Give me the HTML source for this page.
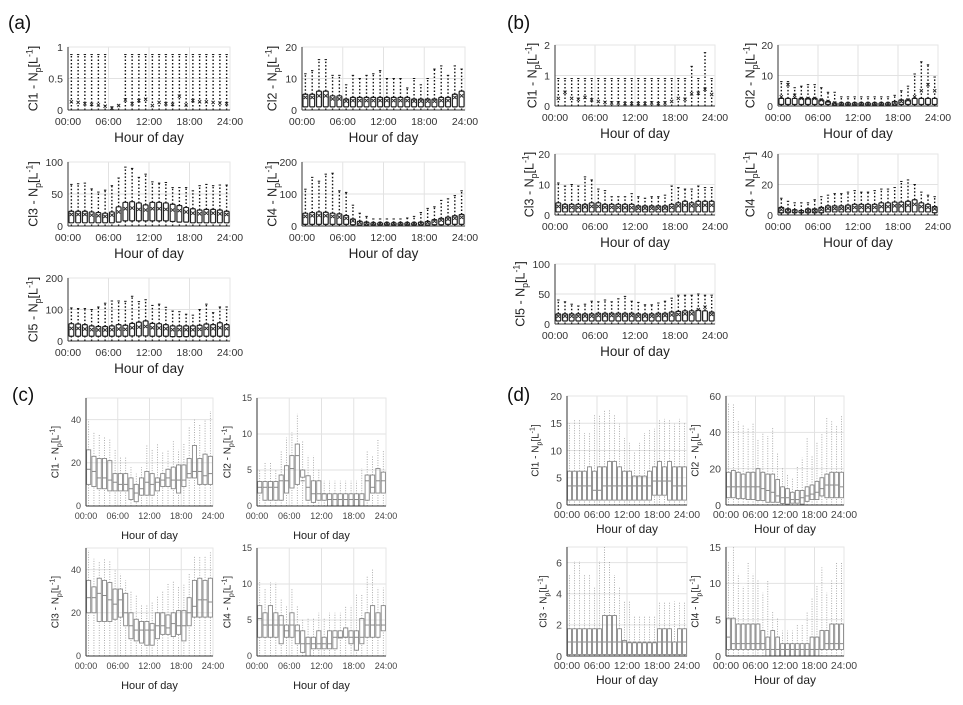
<!DOCTYPE html>
<html><head><meta charset="utf-8"><style>
html,body{margin:0;padding:0;background:#fff}
svg{display:block;font-family:"Liberation Sans",sans-serif}
</style></head><body>
<svg id="fig" width="963" height="705" viewBox="0 0 963 705" xmlns="http://www.w3.org/2000/svg">
<text x="8" y="29" font-size="19" fill="#111">(a)</text>
<text x="507" y="29" font-size="19" fill="#111">(b)</text>
<text x="12" y="401" font-size="19" fill="#111">(c)</text>
<text x="507" y="401" font-size="19" fill="#111">(d)</text>
</svg>
<script>
const hours = ["00:00","06:00","12:00","18:00","24:00"];
// ---- panel a ----
const a1_hi=[.88,.88,.88,.88,.88,.88,.05,.08,.88,.88,.88,.88,.88,.88,.88,.88,.88,.88,.88,.88,.88,.88,.88,.88];
const a1_q1=[0,0,0,0,0,0,0,0,0,0,0,0,0,0,0,0,0,0,0,0,0,0,0,0];
const a1_q3=[0,0,0,0,0,0,0,0,0,0,0,0,0,0,0,0,0,0,0,0,0,0,0,0];
const a1_mean=[.13,.12,.1,.09,.08,.06,.03,.07,.16,.1,.15,.17,.07,.12,.1,.09,.22,.08,.15,.13,.13,.12,.11,.1];
const a2_hi=[11.5,12.5,16,16,11,11,8,11,10,11,11.5,12.5,10,10,10,7,10,8,10,13,14,11,14,13];
const a2_q1=[1,1,1,1,1,1,1,1,1,1,1,1,1,1,1,1,1,1,1,1,1,1,1,1];
const a2_q3=[5,5,6,6,4.5,4.5,3.5,4,4,4,4,4,4,4,4,4,3.5,3.5,3.5,3.5,4,4,5,6];
const a2_mean=[4,4,4.5,4.5,3.5,3.5,2.8,3,3,3,3,3,3,3,3,3,2.8,2.8,2.8,2.8,3,3,4,4.5];
const a3_hi=[65,66,67,58,53,56,63,75,92,90,76,81,69,67,68,60,60,60,55,63,65,63,64,64];
const a3_q1=[5,5,5,5,5,5,5,6,8,8,8,8,8,8,8,7,6,6,5,5,5,5,5,5];
const a3_q3=[23,23,23,22,21,20,22,30,37,38,36,33,37,37,36,34,32,29,27,25,26,26,25,23];
const a3_mean=[18,18,18,17,16,15,17,22,27,28,26,25,27,27,26,25,24,22,20,19,20,20,19,18];
const a4_hi=[115,152,140,162,165,110,105,65,40,30,22,22,22,22,22,25,30,42,55,60,80,85,95,110];
const a4_q1=[5,5,5,5,5,5,5,4,3,3,3,3,3,3,3,3,3,3,3,4,4,5,5,5];
const a4_q3=[40,42,44,43,40,38,33,22,15,12,10,10,10,10,10,10,10,12,14,20,24,28,32,36];
const a4_mean=[30,32,33,32,30,28,24,16,11,9,8,8,8,8,8,8,8,9,11,15,18,21,24,27];
const a5_hi=[105,103,103,100,108,120,127,127,126,142,125,131,113,117,107,95,93,85,82,100,117,90,108,108];
const a5_q1=[15,15,15,15,15,15,15,15,15,16,16,16,15,15,15,14,14,14,15,15,15,15,15,15];
const a5_q3=[55,54,52,48,46,46,48,52,50,56,60,64,56,55,52,48,48,48,48,50,54,52,58,52];
const a5_mean=[40,40,38,36,35,35,36,38,37,42,44,46,42,41,39,36,36,36,36,37,40,39,42,39];
// ---- panel b ----
const b1_hi=[.9,.9,.9,.9,.9,.9,.9,.9,.9,.9,.9,.9,.9,.9,.9,.9,.9,.9,.9,.9,1.3,.9,1.75,.9];
const b1_q1=[0,0,0,0,0,0,0,0,0,0,0,0,0,0,0,0,0,0,0,0,0,0,0,0];
const b1_q3=[0,0,0,0,0,0,0,0,0,0,0,0,0,0,0,0,0,0,0,0,0,0,0,0];
const b1_mean=[.25,.45,.25,.22,.28,.2,.15,.12,.1,.1,.08,.08,.08,.08,.1,.08,.1,.15,.25,.22,.4,.42,.55,.38];
const b2_hi=[8,8,6,6.5,7,7,6,4.5,4.5,3,3,3,3,3,3,3,3,3.5,5,6.5,10.5,14.5,13.5,9.5];
const b2_q1=[.5,.5,.5,.5,.5,.5,.5,.5,.3,.3,.3,.3,.3,.3,.3,.3,.3,.3,.5,.5,.5,.5,.5,.5];
const b2_q3=[2.5,2.5,2.5,2.5,2.5,2.5,2,1.5,1,1,1,1,1,1,1,1,1,1.5,2,2,2.5,2.5,2.5,2.5];
const b2_mean=[3,7,3.5,2.5,2.5,2.5,2,1.5,1,.8,.8,.8,.8,.8,.8,.8,.8,1,1.5,2,3,5,7,5];
const b3_hi=[10.5,9.5,10,9.5,12.5,11.5,8.5,8,6,6,6,7,6,5.5,6,6,6.5,9.5,9,8.5,8.5,9.5,9,9];
const b3_q1=[1,1,1,1,1,1,1,1,1,1,1,1,1,1,1,1,1,1,1,1,1,1,1,1];
const b3_q3=[4,3.5,3.5,3.5,3.5,4,4,3.5,3.5,3.5,3.5,3.5,3,3,3,3,3,3.5,4,4.5,4,4.5,4.5,4.5];
const b3_mean=[2.8,2.5,2.5,2.5,2.6,2.8,2.8,2.5,2.5,2.5,2.4,2.4,2.2,2.2,2.2,2.2,2.2,2.5,3,3.2,3,3.2,3.2,3.2];
const b4_hi=[11,9,8,8,8,10,12,13,14,14,15,16,15,15,16,17,17,18,22,23,20,15,13,12];
const b4_q1=[1.5,1.5,1.5,1.5,1.5,1.5,1.5,2,2,2,2,2,2,2,2,2,2,2,2,2,2,2,2,1.5];
const b4_q3=[5,4,3.5,3,4,4,5,6,6,6,6.5,7,7,7,7,8,8,8.5,8.5,9,10,8,7,5.5];
const b4_mean=[3.5,3,2.5,2.2,2.8,2.8,3.5,4.2,4.2,4.2,4.5,5,5,5,5,5.5,5.5,6,6,6.3,7,5.5,5,4];
const b5_hi=[40,37,33,30,33,38,37,40,37,42,46,38,36,32,32,35,38,43,48,48,48,50,48,48];
const b5_q1=[5,5,5,5,5,5,5,5,5,5,5,5,5,5,5,5,5,5,5,5,5,5,5,5];
const b5_q3=[17,17,17,17,17,17,18,18,18,18,18,18,17,17,17,18,18,20,21,22,22,23,22,20];
const b5_mean=[13,13,13,13,13,13,14,14,14,14,14,14,13,13,13,14,14,15,16,17,17,24,28,16];
// ---- panel c ----
const c1_hi=[40,34,33,32,31,26,23,23,18,15,18,28,26,29,25,26,30,26,29,37,40,38,40,44];
const c1_q1=[10,9,8,8,7,7,7,7,3,2,5,5,5,7,9,9,8,6,9,13,13,10,10,10];
const c1_q3=[26,23,22,22,21,15,15,15,13,10,13,16,15,13,15,17,18,19,19,22,28,22,24,23];
const c1_med=[17,16,13,13,12,11,10,10,8,6,8,11,10,11,12,13,12,12,12,15,16,16,14,15];
const c2_hi=[5,6,6,5,7.6,9.5,10.2,12.8,9,7,7,5.2,3.5,3.5,3.5,3.5,3.5,3.5,3.5,5.2,7.6,7,9.3,7.8];
const c2_q1=[1.8,.8,.8,.8,.8,1.8,2.5,3,4,.8,.5,.8,.8,0,0,0,0,0,0,0,.8,1.8,1.8,1.8];
const c2_q3=[3.4,3.4,3.4,3.4,4.3,5.6,7,8.6,5,4.2,3.5,3.5,1.7,1.7,1.7,1.7,1.7,1.7,1.7,1.7,4.3,4.3,5.2,4.7];
const c2_med=[2.6,2.6,2.6,2.6,3.5,3.5,5.2,7,3.5,2.6,1.7,1.7,1.7,.9,.9,.9,.9,.9,.9,.9,3.5,2.6,3.5,3.5];
const c3_hi=[49,45,44,45,44,40,38,35,30,28,24,24,25,28,30,34,35,32,33,38,46,46,46,48];
const c3_q1=[20,20,16,16,16,17,18,14,8,7,6,5,5,8,10,10,9,10,7,14,18,18,18,18];
const c3_q3=[35,32,36,35,34,31,31,29,20,17,16,16,15,20,20,19,20,21,21,27,35,36,35,36];
const c3_med=[27,27,29,28,26,24,26,20,14,12,12,12,12,14,14,13,15,14,14,20,23,26,26,25];
const c4_hi=[10.5,9.3,10.2,10.2,8,7,9.3,7,5.2,5.2,5.2,6,5.2,6,6,6,7,7,8.5,8.5,11,12,9.5,9.5];
const c4_q1=[2.6,2.6,2.6,2.6,1.7,2.6,2.6,1.7,.5,0,1,1,1,1,1,2.5,2.6,1.7,.8,1.7,2.6,2.6,2.6,3.5];
const c4_q3=[7,6,7,6,5.6,4.3,6,4.3,3.5,2.6,2.6,3.5,2.6,3.5,3.5,3.5,3.9,3.5,3.5,5.2,6,7,6,7];
const c4_med=[5.2,4.3,4.3,4.3,4.3,3.5,4.3,3.5,1.7,1.7,1.7,1.7,1.7,1.7,2.6,2.6,2.6,2.6,2.6,2.6,4.3,4.3,4.3,4.3];
// ---- panel d ----
const d1_hi=[15,15.8,15.8,13.2,13.2,16.6,16.6,17.5,17.5,16.6,14.9,12.3,11.4,9.6,11.4,13.2,14,14,15.8,15.8,15.8,14.9,15.8,15];
const d1_q1=[.9,.9,.9,.9,.9,.9,.9,.9,.9,.9,.9,.9,.9,.9,.9,.9,.9,1.8,1.8,1.8,.9,.9,.9,.9];
const d1_q3=[6.2,6.2,6.2,6.2,7,6.2,7,7,8,8,7,6.2,6.2,5.3,5.3,5.3,6.2,7,8,7,8,7,7,7];
const d1_med=[3.5,3.5,3.5,3.5,3.5,2.7,2.7,3.5,3.5,3.5,3.5,3.5,3.5,3.5,3.5,3.5,3.5,4.4,4.4,4.4,4.4,3.5,3.5,3.5];
const d2_hi=[56,56,46,44,42,45,36,40,38,43,29,21,17,15,21,26,37,27,35,39,48,46,44,49];
const d2_q1=[4,4,3.5,3.5,3,3,2.5,2.5,1.5,1.5,1.5,.8,.5,1,1,.5,2,3,3,5,4,4,4,4];
const d2_q3=[18,19,18,17,18,18,20,18,17,17,14,10,9,7,8,8,10,11,13,15,17,18,18,18];
const d2_med=[10,10,10,10,10,10,10,9,8,7,5,4,4,3,3,4,5,6,7,9,11,11,11,10];
const d3_hi=[5.2,6.1,6.1,5.2,5.2,4.4,6.1,7,6.1,5.2,4.4,3.5,3.5,2.6,2.6,2.6,2.6,2.6,3.5,3.5,3.5,3.5,3.5,3.5];
const d3_q1=[.1,.1,.1,.1,.1,.1,.1,.1,.1,.1,.1,.1,.1,.1,.1,.1,.1,.1,.1,.1,.1,.1,.1,.1];
const d3_q3=[1.75,1.75,1.75,1.75,1.75,1.75,1.75,2.6,2.6,2.6,1.75,1,.85,.85,.85,.85,.85,.85,1.75,1.75,1.75,.9,1.75,1.75];
const d3_med=[.9,.9,.9,.9,.9,.9,.9,.9,.9,.9,.9,.9,.9,.9,.9,.9,.9,.9,.9,.9,.9,.9,.9,.9];
const d4_hi=[13,15,11.3,9.6,13,11.3,10.5,8.7,10.5,6.1,5.2,3.5,3.5,3.5,4.4,4.4,6.1,7.9,9.6,12.2,8.7,10.5,13,13];
const d4_q1=[.9,.9,.9,.9,.9,.9,.9,.9,0,0,0,0,0,0,0,0,0,0,0,.9,.9,.9,.9,.9];
const d4_q3=[5.2,5.2,4.4,4.4,4.4,4.4,4.4,3.5,2.6,3.5,2.6,1.7,1.7,1.7,1.7,1.7,1.7,2.6,2.6,3.5,3.5,4.4,4.4,4.4];
const d4_med=[2.6,1.7,1.7,1.7,1.7,1.7,1.7,1.7,.9,.9,.9,.9,.9,.9,.9,.9,.9,.9,.9,.9,1.7,1.7,1.7,1.7];

const NS="http://www.w3.org/2000/svg";
const svg=document.getElementById('fig');
function mk(tag,attrs,parent){const e=document.createElementNS(NS,tag);for(const k in attrs)e.setAttribute(k,attrs[k]);(parent||svg).appendChild(e);return e;}

const panels=[
 {id:'a1',cl:'Cl1',x0:68,x1:230,y0:47,y1:110,ymax:1,ticks:[0,0.5,1],lx:33,st:'ab',hi:a1_hi,q1:a1_q1,q3:a1_q3,mean:a1_mean},
 {id:'a2',cl:'Cl2',x0:302,x1:465,y0:47,y1:110,ymax:20,ticks:[0,10,20],lx:272,st:'ab',hi:a2_hi,q1:a2_q1,q3:a2_q3,mean:a2_mean},
 {id:'a3',cl:'Cl3',x0:68,x1:230,y0:162,y1:226,ymax:100,ticks:[0,50,100],lx:33,st:'ab',hi:a3_hi,q1:a3_q1,q3:a3_q3,mean:a3_mean},
 {id:'a4',cl:'Cl4',x0:302,x1:465,y0:162,y1:226,ymax:200,ticks:[0,100,200],lx:272,st:'ab',hi:a4_hi,q1:a4_q1,q3:a4_q3,mean:a4_mean},
 {id:'a5',cl:'Cl5',x0:68,x1:230,y0:278,y1:341,ymax:200,ticks:[0,100,200],lx:33,st:'ab',hi:a5_hi,q1:a5_q1,q3:a5_q3,mean:a5_mean},
 {id:'b1',cl:'Cl1',x0:555,x1:715,y0:45,y1:106,ymax:2,ticks:[0,1,2],lx:532,st:'ab',hi:b1_hi,q1:b1_q1,q3:b1_q3,mean:b1_mean},
 {id:'b2',cl:'Cl2',x0:778,x1:938,y0:45,y1:106,ymax:20,ticks:[0,10,20],lx:750,st:'ab',hi:b2_hi,q1:b2_q1,q3:b2_q3,mean:b2_mean},
 {id:'b3',cl:'Cl3',x0:555,x1:715,y0:154,y1:215,ymax:20,ticks:[0,10,20],lx:529,st:'ab',hi:b3_hi,q1:b3_q1,q3:b3_q3,mean:b3_mean},
 {id:'b4',cl:'Cl4',x0:778,x1:938,y0:154,y1:215,ymax:40,ticks:[0,20,40],lx:750,st:'ab',hi:b4_hi,q1:b4_q1,q3:b4_q3,mean:b4_mean},
 {id:'b5',cl:'Cl5',x0:555,x1:715,y0:264,y1:324,ymax:100,ticks:[0,50,100],lx:520,st:'ab',hi:b5_hi,q1:b5_q1,q3:b5_q3,mean:b5_mean},
 {id:'c1',cl:'Cl1',x0:86,x1:213,y0:398,y1:506,ymax:50,ticks:[0,20,40],lx:55,st:'cd',hi:c1_hi,q1:c1_q1,q3:c1_q3,med:c1_med},
 {id:'c2',cl:'Cl2',x0:257,x1:386,y0:398,y1:506,ymax:15,ticks:[0,5,10,15],lx:227,st:'cd',hi:c2_hi,q1:c2_q1,q3:c2_q3,med:c2_med},
 {id:'c3',cl:'Cl3',x0:86,x1:213,y0:548,y1:656,ymax:50,ticks:[0,20,40],lx:55,st:'cd',hi:c3_hi,q1:c3_q1,q3:c3_q3,med:c3_med},
 {id:'c4',cl:'Cl4',x0:257,x1:386,y0:548,y1:656,ymax:15,ticks:[0,5,10,15],lx:227,st:'cd',hi:c4_hi,q1:c4_q1,q3:c4_q3,med:c4_med},
 {id:'d1',cl:'Cl1',x0:567,x1:687,y0:396,y1:505,ymax:20,ticks:[0,5,10,15,20],lx:535,st:'cd',hi:d1_hi,q1:d1_q1,q3:d1_q3,med:d1_med},
 {id:'d2',cl:'Cl2',x0:726,x1:844,y0:396,y1:505,ymax:60,ticks:[0,20,40,60],lx:695,st:'cd',hi:d2_hi,q1:d2_q1,q3:d2_q3,med:d2_med},
 {id:'d3',cl:'Cl3',x0:567,x1:687,y0:547,y1:656,ymax:7,ticks:[0,2,4,6],lx:543,st:'cd',hi:d3_hi,q1:d3_q1,q3:d3_q3,med:d3_med},
 {id:'d4',cl:'Cl4',x0:726,x1:844,y0:547,y1:656,ymax:15,ticks:[0,5,10,15],lx:695,st:'cd',hi:d4_hi,q1:d4_q1,q3:d4_q3,med:d4_med}
];

panels.forEach(p=>{
  const ab=p.st==='ab', isD=p.id[0]==='d';
  const g=mk('g',{});
  
  
  const n=p.hi.length;
  const xs=h=>p.x0+(p.x1-p.x0)*h/24;
  const ys=v=>p.y1-(p.y1-p.y0)*v/p.ymax;
  const tfs=ab?10.5:(isD?10.5:9), tcol=ab?'#333':'#444';
  for(let k=0;k<=4;k++){const x=xs(k*6);mk('line',{x1:x,x2:x,y1:p.y0,y2:p.y1,stroke:'#e2e2e2','stroke-width':1},g);}
  p.ticks.forEach(t=>{const y=ys(t);mk('line',{x1:p.x0,x2:p.x1,y1:y,y2:y,stroke:'#e2e2e2','stroke-width':1},g);});
  mk('rect',{x:p.x0,y:p.y0,width:p.x1-p.x0,height:p.y1-p.y0,fill:'none',stroke:'#e6e6e6'},g);
  const step=(p.x1-p.x0)/24, bw=step*(ab?0.72:0.78);
  const bstroke=ab?'#222':'#888', wstroke=ab?'#111':'#999';
  for(let i=0;i<n;i++){
    const cx=xs(i+0.5);
    const b=mk('g',{},g);
    
    
    mk('line',{x1:cx,x2:cx,y1:ys(p.q3[i]),y2:ys(p.hi[i]),stroke:wstroke,'stroke-width':ab?1.4:0.8,'stroke-dasharray':ab?'1.5,2':'1,1.5'},b);
    mk('line',{x1:cx,x2:cx,y1:ys(0),y2:ys(p.q1[i]),stroke:wstroke,'stroke-width':ab?1.4:0.8,'stroke-dasharray':ab?'1.5,2':'1,1.5'},b);
    if(ab) mk('line',{x1:cx-1.2,x2:cx+1.2,y1:ys(p.hi[i]),y2:ys(p.hi[i]),stroke:'#111','stroke-width':1},b);
    const top=ys(p.q3[i]),bot=ys(p.q1[i]);
    if(bot-top>0.5) mk('rect',{x:cx-bw/2,y:top,width:bw,height:bot-top,fill:'none',stroke:bstroke,'stroke-width':ab?1.2:0.9,rx:ab?1:0},b);
    if(p.med){const y=ys(p.med[i]);mk('line',{x1:cx-bw/2,x2:cx+bw/2,y1:y,y2:y,stroke:bstroke,'stroke-width':1},b);}
    if(p.mean){const y=ys(p.mean[i]);
      mk('path',{d:`M${cx-1.6},${y-1.6}L${cx+1.6},${y+1.6}M${cx-1.6},${y+1.6}L${cx+1.6},${y-1.6}`,stroke:'#222','stroke-width':0.9,fill:'none'},b);}
  }
  mk('line',{x1:p.x0,x2:p.x0,y1:p.y0,y2:p.y1,stroke:'#333','stroke-width':1},g);
  mk('line',{x1:p.x0,x2:p.x1,y1:p.y1,y2:p.y1,stroke:'#333','stroke-width':1},g);
  p.ticks.forEach(t=>{
    const tx=mk('text',{x:p.x0-5,y:ys(t)+tfs*0.36,'font-size':tfs,fill:tcol,'text-anchor':'end'},g);
    
    
    tx.textContent=String(t);
  });
  hours.forEach((h,k)=>{
    const tx=mk('text',{x:xs(k*6),y:p.y1+(ab?15:(isD?13:13)),'font-size':tfs,fill:tcol,'text-anchor':'middle'},g);
    
    
    tx.textContent=h;
  });
  const xt=mk('text',{x:(p.x0+p.x1)/2,y:p.y1+(ab?32:(isD?28:33)),'font-size':ab?13.5:(isD?12:11),fill:'#222','text-anchor':'middle'},g);
  
  
  xt.textContent='Hour of day';
  const cy=(p.y0+p.y1)/2, fs=ab?12.5:10;
  const yt=mk('text',{x:p.lx,y:cy,'font-size':fs,fill:'#222','text-anchor':'middle',transform:`rotate(-90 ${p.lx} ${cy})`,dy:fs*0.35},g);
  
  
  yt.appendChild(document.createTextNode(p.cl+' - N'));
  const s1=mk('tspan',{'font-size':fs*0.7,dy:fs*0.3},yt);s1.textContent='p';
  const s2=mk('tspan',{dy:-fs*0.3},yt);s2.textContent='[L';
  const s3=mk('tspan',{'font-size':fs*0.7,dy:-fs*0.4},yt);s3.textContent='-1';
  const s4=mk('tspan',{dy:fs*0.4},yt);s4.textContent=']';
});
</script>
</body></html>
